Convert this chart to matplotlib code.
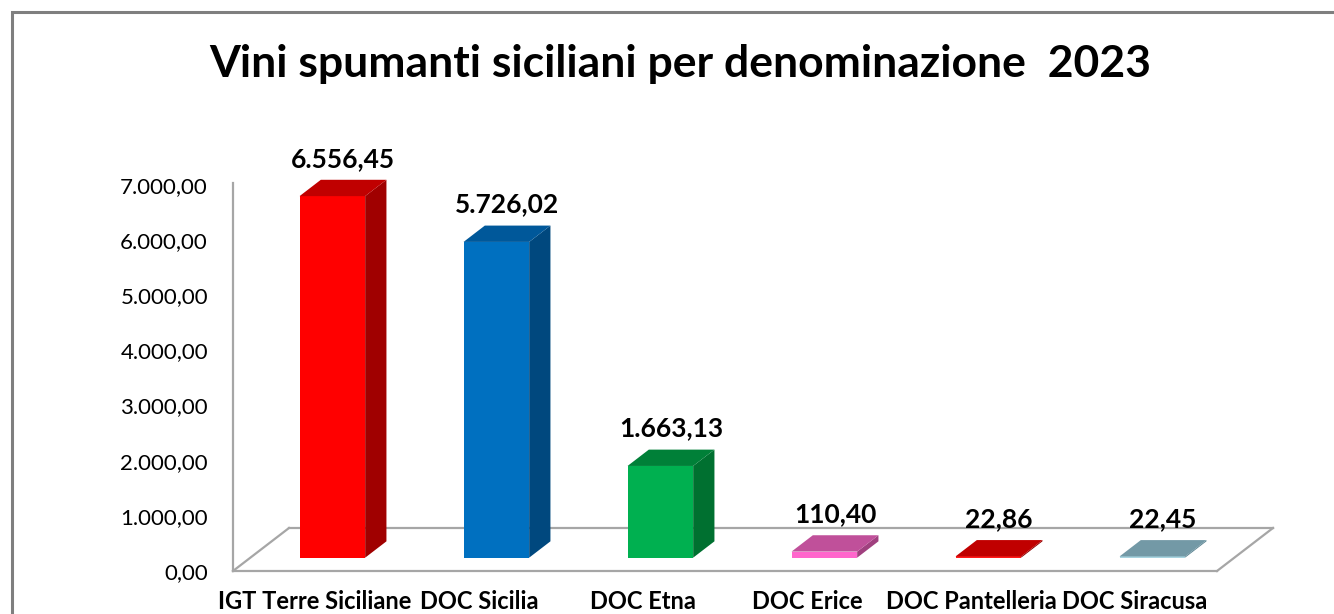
import matplotlib
matplotlib.use("Agg")
import matplotlib.pyplot as plt
from matplotlib.patches import Polygon, Rectangle

# dati
categorie = ["IGT Terre Siciliane", "DOC Sicilia", "DOC Etna",
             "DOC Erice", "DOC Pantelleria", "DOC Siracusa"]
valori = [6556.45, 5726.02, 1663.13, 110.40, 22.86, 22.45]
colori_fronte = ["#FF0000", "#0070C0", "#00B050", "#FF66CC", "#FF1A1A", "#A8D4E0"]
colori_lato = ["#A00000", "#00487E", "#007030", "#A0407F", "#900000", "#5C8592"]
colori_sopra = ["#C00000", "#00589A", "#008038", "#C0509A", "#C00000", "#7399A6"]
yticks = [0, 1000, 2000, 3000, 4000, 5000, 6000, 7000]
titolo = "Vini spumanti siciliani per denominazione  2023"


def it_fmt(v):
    s = f"{v:,.2f}"
    return s.replace(",", "X").replace(".", ",").replace("X", ".")


W, H = 1334, 614
plt.rcParams["font.family"] = ["Lato", "DejaVu Sans"]

fig = plt.figure(figsize=(W / 100, H / 100), dpi=100)

# cornice esterna (esce a destra e in basso)
fig.patches.append(Rectangle((12 / W, -0.2), 2, 1.2 - 12 / H, transform=fig.transFigure,
                             fill=False, edgecolor="#7F7F7F", linewidth=2.2))

# piano frontale: x 233..1217 px, y 571..183 px
ax = fig.add_axes([233 / W, (H - 571) / H, 984 / W, 388 / H])
ymax = 7000 * 388 / 386
ax.set_xlim(0, len(categorie))
ax.set_ylim(0, ymax)
ax.patch.set_alpha(0)

px_y = ymax / 388          # unità dati per pixel verticale
px_x = len(categorie) / 984
DX, DY = 56 * px_x, 43 * px_y   # profondità del pavimento
d1, d2 = 0.31, 0.69             # profondità della barra
bw = 0.40

# pavimento
floor = dict(color="#A6A6A6", linewidth=1.6, clip_on=False, zorder=1)
n = len(categorie)
ax.plot([0, n], [0, 0], **floor)
ax.plot([DX, n + DX], [DY, DY], **floor)
ax.plot([0, DX], [0, DY], **floor)
ax.plot([n, n + DX], [0, DY], **floor)
ax.plot([0, 0], [0, ymax], **floor)

for i, v in enumerate(valori):
    x0 = i + 0.5 - bw / 2 + d1 * DX
    y0 = d1 * DY
    ox, oy = (d2 - d1) * DX, (d2 - d1) * DY
    ax.bar(x0, v, width=bw, bottom=y0, align="edge", color=colori_fronte[i],
           zorder=3, clip_on=False)
    side = [(x0 + bw, y0), (x0 + bw + ox, y0 + oy), (x0 + bw + ox, y0 + oy + v), (x0 + bw, y0 + v)]
    top = [(x0, y0 + v), (x0 + ox, y0 + oy + v), (x0 + bw + ox, y0 + oy + v), (x0 + bw, y0 + v)]
    ax.add_patch(Polygon(side, closed=True, facecolor=colori_lato[i], edgecolor="none",
                         zorder=2, clip_on=False))
    ax.add_patch(Polygon(top, closed=True, facecolor=colori_sopra[i], edgecolor="none",
                         zorder=4, clip_on=False))
    ax.text(i + 0.5 + d1 * DX + ox / 2, v + d2 * DY + 9 * px_y, it_fmt(v),
            ha="center", va="bottom", fontsize=19, fontweight="bold", zorder=5)

for s in ax.spines.values():
    s.set_visible(False)
ax.set_yticks(yticks)
ax.set_yticklabels([it_fmt(t) for t in yticks], fontsize=16)
ax.tick_params(axis="y", length=0, pad=18)
ax.set_xticks([i + 0.5 for i in range(n)])
ax.set_xticklabels(categorie, fontsize=17, fontweight="bold")
ax.tick_params(axis="x", length=0, pad=14)

fig.text(680 / W, 1 - 77 / H, titolo, ha="center", va="baseline",
         fontsize=32, fontweight="bold")

fig.savefig("out.png", dpi=100)
